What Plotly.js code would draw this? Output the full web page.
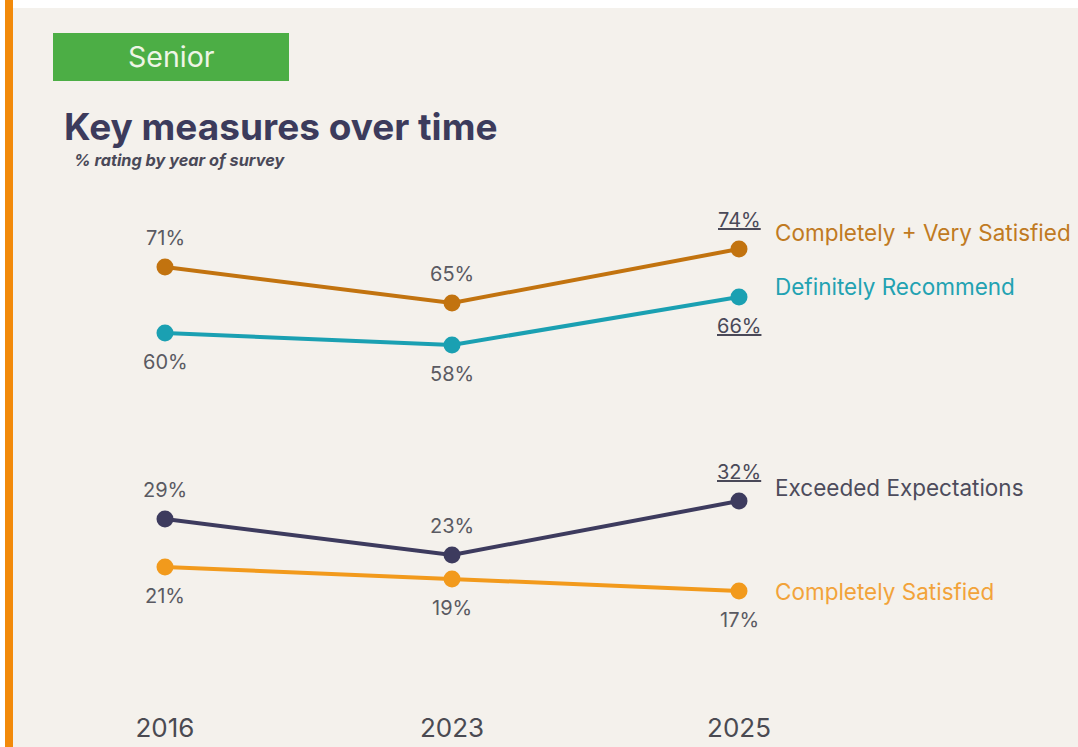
<!DOCTYPE html>
<html>
<head>
<meta charset="utf-8">
<script src="https://cdn.plot.ly/plotly-3.0.1.min.js"></script>
<style>
  html, body { margin: 0; padding: 0; background: #ffffff; }
  #chart { width: 1078px; height: 747px; }
</style>
</head>
<body>
<div id="chart"></div>
<script>
// ---- data ----
const years = ['2016', '2023', '2025'];
const seriesNames = ['Completely + Very Satisfied', 'Definitely Recommend', 'Exceeded Expectations', 'Completely Satisfied'];
const completelyVerySatisfied = [71, 65, 74];
const definitelyRecommend = [60, 58, 66];
const exceededExpectations = [29, 23, 32];
const completelySatisfied = [21, 19, 17];
const seriesValues = [completelyVerySatisfied, definitelyRecommend, exceededExpectations, completelySatisfied];
const badgeText = 'Senior';
const titleText = 'Key measures over time';
const subtitleText = '% rating by year of survey';

// ---- styles ----
const lineColors = ['#c2730f', '#1aa0b2', '#3d3b5e', '#f29a1c'];
const nameColors = ['#c07a22', '#22a2b2', '#4d4c5c', '#f2a33a'];
const labelSide = [-1, 1, -1, 1];          // -1 above, +1 below
const underlineLast = [true, true, true, false];
const nameYShift = [17, 11, 14, 0];
const bg = '#f4f1ec';
const FONT = 'Inter, "Open Sans", sans-serif';

const W = 1078, H = 747, ML = 165, MR = 339, MT = 93, MB = 54;
const PW = W - ML - MR, PH = H - MT - MB;
const px = x => (x - ML) / PW;
const py = y => (H - MB - y) / PH;

const traces = seriesValues.map((vals, i) => ({
  type: 'scatter',
  mode: 'lines+markers',
  x: years,
  y: vals,
  name: seriesNames[i],
  line: { color: lineColors[i], width: 4 },
  marker: { color: lineColors[i], size: 17 },
  cliponaxis: false,
  hoverinfo: 'skip'
}));

const annotations = [];
seriesValues.forEach((vals, i) => {
  vals.forEach((v, j) => {
    const last = j === vals.length - 1;
    const t = v + '%';
    annotations.push({
      x: j, y: v, xref: 'x', yref: 'y',
      text: (last && underlineLast[i]) ? '<u>' + t + '</u>' : t,
      showarrow: false,
      yshift: labelSide[i] === -1 ? 29 : -29,
      xanchor: 'center', yanchor: 'middle',
      font: { family: FONT, size: 20, color: (last && underlineLast[i]) ? '#4a4958' : '#5a5a62' }
    });
  });
  annotations.push({
    x: vals.length - 1, y: vals[vals.length - 1], xref: 'x', yref: 'y',
    text: seriesNames[i], showarrow: false,
    xanchor: 'left', yanchor: 'middle', xshift: 34, yshift: nameYShift[i],
    font: { family: FONT, size: 22.5, color: nameColors[i] }
  });
});

// badge
annotations.push({
  xref: 'paper', yref: 'paper', x: px(171), y: py(57),
  text: badgeText, showarrow: false, xanchor: 'center', yanchor: 'middle',
  font: { family: FONT, size: 28.5, color: '#eef5e6' }
});
// subtitle
annotations.push({
  xref: 'paper', yref: 'paper', x: px(72), y: py(160),
  text: '<b><i>' + subtitleText + '</i></b>', showarrow: false, xanchor: 'left', yanchor: 'middle',
  font: { family: FONT, size: 16.3, color: '#4a4958' }
});

const shapes = [
  { type: 'rect', xref: 'paper', yref: 'paper', x0: px(0), x1: px(W), y0: py(8), y1: py(0), fillcolor: '#ffffff', line: { width: 0 }, layer: 'below' },
  { type: 'rect', xref: 'paper', yref: 'paper', x0: px(0), x1: px(5), y0: py(H), y1: py(0), fillcolor: '#ffffff', line: { width: 0 }, layer: 'below' },
  { type: 'rect', xref: 'paper', yref: 'paper', x0: px(5), x1: px(13), y0: py(H), y1: py(0), fillcolor: '#f28a0a', line: { width: 0 }, layer: 'below' },
  { type: 'rect', xref: 'paper', yref: 'paper', x0: px(53), x1: px(289), y0: py(81), y1: py(33), fillcolor: '#4cae45', line: { width: 0 }, layer: 'below' }
];

const layout = {
  width: W, height: H,
  margin: { l: ML, r: MR, t: MT, b: MB, pad: 0 },
  paper_bgcolor: bg, plot_bgcolor: bg,
  showlegend: false,
  title: {
    text: '<b>' + titleText + '</b>',
    xref: 'container', yref: 'container',
    x: 64 / W, xanchor: 'left',
    y: 1 - 127 / H, yanchor: 'middle',
    font: { family: FONT, size: 37, color: '#3c3b5c' }
  },
  xaxis: {
    type: 'category', range: [0, 2], showgrid: false, zeroline: false, showline: false,
    ticks: '', ticklabelstandoff: 17,
    tickfont: { family: FONT, size: 26, color: '#4a4a52' },
    fixedrange: true
  },
  yaxis: { range: [0, 100], visible: false, fixedrange: true },
  annotations: annotations,
  shapes: shapes
};

Plotly.newPlot('chart', traces, layout, { displayModeBar: false, staticPlot: true });
</script>
</body>
</html>
